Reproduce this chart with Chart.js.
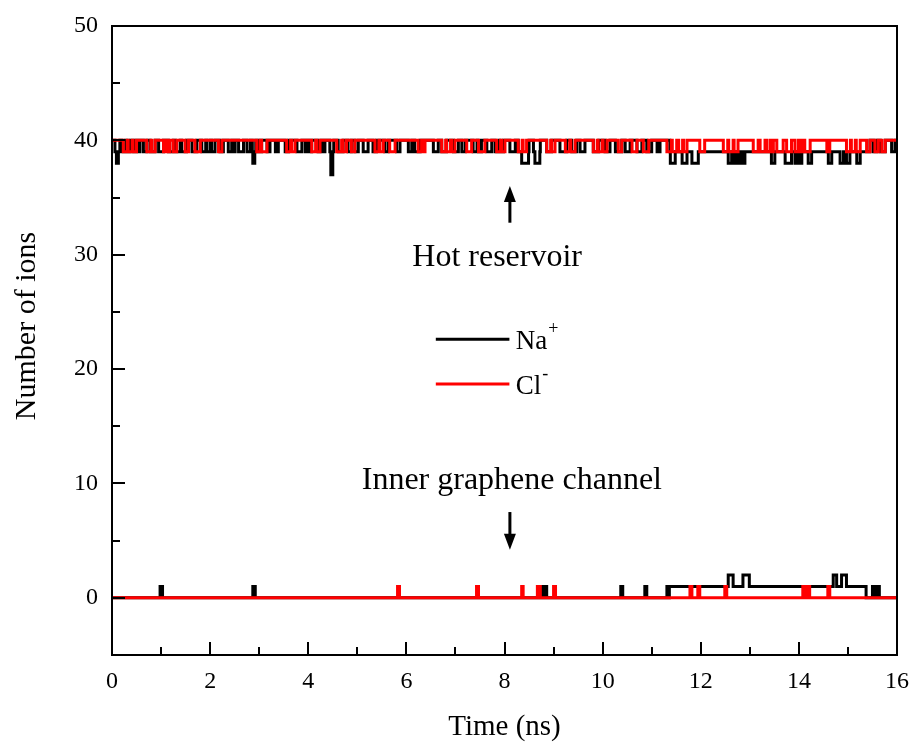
<!DOCTYPE html>
<html>
<head>
<meta charset="utf-8">
<title>Number of ions</title>
<script src="https://cdn.jsdelivr.net/npm/chart.js@4.4.1/dist/chart.umd.min.js"></script>
<style>
    html, body { margin: 0; padding: 0; background: #ffffff; }
    #ionChart { display: block; }
</style>
</head>
<body>
<canvas id="ionChart" width="914" height="749"></canvas>
<script>
// Datos (tiempo en ns)
var xTicks = [0, 2, 4, 6, 8, 10, 12, 14, 16];
var yTicks = [0, 10, 20, 30, 40, 50];

// Na+ en el reservorio caliente: línea base [t, valor] y caídas [t0, t1, valor]
var naHotBase = [[0, 40], [11.37, 39], [15.35, 40]];
var naHotDips = [
    [0.06, 0.16, 39], [0.09, 0.13, 38], [0.20, 0.28, 39], [0.30, 0.37, 39], [0.44, 0.50, 39],
    [0.52, 0.57, 39], [0.64, 0.71, 39], [0.78, 0.88, 39], [0.95, 1.05, 39], [1.15, 1.25, 39],
    [1.29, 1.39, 39], [1.42, 1.52, 39], [1.63, 1.73, 39], [1.83, 1.91, 39], [1.93, 2.00, 39],
    [2.03, 2.10, 39], [2.20, 2.27, 39], [2.37, 2.44, 39], [2.46, 2.51, 39], [2.58, 2.68, 39],
    [2.75, 2.82, 39], [2.86, 2.93, 39], [2.87, 2.91, 38], [2.99, 3.05, 39], [3.16, 3.22, 39],
    [3.33, 3.39, 39], [3.53, 3.60, 39], [3.77, 3.87, 39], [3.94, 4.00, 39], [4.02, 4.07, 39],
    [4.20, 4.27, 39], [4.29, 4.34, 39], [4.44, 4.52, 39], [4.46, 4.50, 37], [4.61, 4.71, 39],
    [4.81, 4.88, 39], [4.95, 5.02, 39], [5.12, 5.22, 39], [5.32, 5.39, 39], [5.56, 5.63, 39],
    [5.80, 5.87, 39], [6.04, 6.11, 39], [6.17, 6.28, 39], [6.55, 6.65, 39], [6.72, 6.82, 39],
    [6.96, 7.06, 39], [7.13, 7.20, 39], [7.36, 7.44, 39], [7.46, 7.53, 39], [7.64, 7.74, 39],
    [7.81, 7.89, 39], [7.91, 7.98, 39], [8.11, 8.22, 39], [8.28, 8.50, 39], [8.35, 8.49, 38],
    [8.59, 8.73, 39], [8.62, 8.72, 38], [8.86, 8.96, 39], [9.13, 9.27, 39], [9.37, 9.47, 39],
    [9.54, 9.64, 39], [9.81, 9.92, 39], [10.05, 10.15, 39], [10.26, 10.39, 39], [10.46, 10.56, 39],
    [10.70, 10.80, 39], [10.90, 11.00, 39], [11.11, 11.17, 39], [11.38, 11.48, 38], [11.62, 11.72, 38],
    [11.82, 11.95, 38], [12.56, 12.63, 38], [12.66, 12.72, 38], [12.76, 12.80, 38], [12.84, 12.90, 38],
    [13.44, 13.51, 38], [13.72, 13.85, 38], [13.92, 13.97, 38], [14.01, 14.06, 38], [14.19, 14.26, 38],
    [14.60, 14.67, 38], [14.84, 14.91, 38], [14.97, 15.04, 38], [15.18, 15.25, 38], [15.35, 15.45, 39],
    [15.52, 15.59, 39], [15.66, 15.76, 39], [15.89, 15.96, 39]
];

// Cl- en el reservorio caliente: base 40, caídas a 39
var clHotBase = [[0, 40]];
var clHotDips = [
    [0.23, 0.31], [0.33, 0.41], [0.43, 0.50], [0.71, 0.79], [0.81, 0.88], [1.05, 1.11],
    [1.13, 1.18], [1.25, 1.32], [1.49, 1.56], [1.69, 1.80], [2.17, 2.24], [2.95, 3.02],
    [3.05, 3.16], [3.56, 3.64], [3.66, 3.73], [4.07, 4.15], [4.17, 4.24], [4.58, 4.68],
    [4.71, 4.78], [4.88, 4.95], [5.36, 5.44], [5.46, 5.53], [5.66, 5.77], [6.24, 6.31],
    [6.33, 6.38], [6.72, 6.80], [6.82, 6.90], [6.92, 6.99], [7.23, 7.33], [7.47, 7.60],
    [7.84, 7.92], [7.94, 8.01], [8.28, 8.36], [8.38, 8.45], [8.86, 8.94], [8.96, 9.03],
    [9.24, 9.33], [9.35, 9.44], [9.81, 9.89], [9.91, 9.99], [10.01, 10.09], [10.32, 10.39],
    [10.60, 10.70], [10.83, 10.94], [11.31, 11.40], [11.42, 11.51], [11.55, 11.63], [11.65, 11.72],
    [11.98, 12.08], [12.46, 12.55], [12.57, 12.66], [12.68, 12.76], [13.07, 13.17], [13.21, 13.31],
    [13.34, 13.41], [13.43, 13.48], [13.55, 13.68], [13.75, 13.85], [13.92, 13.99], [14.01, 14.06],
    [14.12, 14.23], [14.57, 14.63], [14.97, 15.05], [15.07, 15.15], [15.17, 15.25], [15.38, 15.45],
    [15.55, 15.62], [15.69, 15.76]
];

// Na+ en el canal interno de grafeno
var naInnerBase = [[0, 0], [11.36, 1], [15.37, 0]];
var naInnerPeaks = [
    [0.98, 1.03, 1], [2.87, 2.92, 1], [8.74, 8.79, 1], [8.81, 8.86, 1], [10.37, 10.41, 1],
    [10.86, 10.90, 1], [11.31, 11.33, 1], [12.56, 12.66, 2], [12.86, 12.99, 2], [14.70, 14.77, 2],
    [14.87, 14.97, 2], [15.50, 15.56, 1], [15.59, 15.64, 1]
];

// Cl- en el canal interno: base 0, picos a 1
var clInnerBase = [[0, 0]];
var clInnerPeaks = [
    [5.82, 5.86], [7.43, 7.47], [8.35, 8.38], [8.67, 8.73], [9.00, 9.04], [11.78, 11.82],
    [11.94, 11.98], [12.49, 12.53], [14.08, 14.12], [14.16, 14.22], [14.59, 14.63]
];

var FONT = "'Liberation Serif', 'Times New Roman', serif";

// Construye los puntos escalonados a partir de la base y los segmentos
function buildSteps(base, segs, segValue) {
    var times = [16];
    base.forEach(function (b) { times.push(b[0]); });
    segs.forEach(function (s) { times.push(s[0]); times.push(s[1]); });
    times.sort(function (a, b) { return a - b; });
    times = times.filter(function (t, i) { return i === 0 || t !== times[i - 1]; });

    function valueAt(t) {
        var best = null;
        segs.forEach(function (s) {
            if (t >= s[0] && t < s[1]) {
                if (best === null || (s[1] - s[0]) < (best[1] - best[0])) best = s;
            }
        });
        if (best !== null) return best.length > 2 ? best[2] : segValue;
        var v = base[0][1];
        base.forEach(function (b) { if (t >= b[0]) v = b[1]; });
        return v;
    }

    return times.map(function (t) { return { x: t, y: valueAt(t) }; });
}

function stepDataset(data, color, width) {
    return {
        data: data,
        borderColor: color,
        borderWidth: width,
        pointRadius: 0,
        stepped: true,
        fill: false
    };
}

// Marco, marcas interiores, leyenda y anotaciones
var decorPlugin = {
    id: 'decor',
    afterDatasetsDraw: function (chart) {
        var ctx = chart.ctx;
        var a = chart.chartArea;
        var xs = chart.scales.x;
        var ys = chart.scales.y;
        ctx.save();
        ctx.strokeStyle = '#000';
        ctx.lineWidth = 2;
        ctx.strokeRect(a.left, a.top, a.right - a.left, a.bottom - a.top);

        // marcas del eje x (hacia dentro)
        for (var t = 1; t < 16; t++) {
            var px = Math.round(xs.getPixelForValue(t));
            var len = (t % 2 === 0) ? 13 : 8;
            ctx.beginPath();
            ctx.moveTo(px, a.bottom);
            ctx.lineTo(px, a.bottom - len);
            ctx.stroke();
        }
        // marcas del eje y
        for (var v = 0; v < 50; v += 5) {
            var py = Math.round(ys.getPixelForValue(v));
            var l2 = (v % 10 === 0) ? 13 : 8;
            ctx.beginPath();
            ctx.moveTo(a.left, py);
            ctx.lineTo(a.left + l2, py);
            ctx.stroke();
        }

        // leyenda
        var lx0 = xs.getPixelForValue(6.6), lx1 = xs.getPixelForValue(8.1);
        var legend = [['Na', '+', '#000000', 22.6], ['Cl', '-', '#ff0000', 18.7]];
        legend.forEach(function (item) {
            var y = ys.getPixelForValue(item[3]);
            ctx.strokeStyle = item[2];
            ctx.lineWidth = 3;
            ctx.beginPath();
            ctx.moveTo(lx0, y);
            ctx.lineTo(lx1, y);
            ctx.stroke();
            ctx.fillStyle = '#000';
            ctx.font = '27px ' + FONT;
            ctx.textAlign = 'left';
            ctx.textBaseline = 'middle';
            var tx = xs.getPixelForValue(8.23);
            ctx.fillText(item[0], tx, y + 3);
            var w = ctx.measureText(item[0]).width;
            ctx.font = '18px ' + FONT;
            ctx.fillText(item[1], tx + w + 1, y - 10);
        });

        // textos de anotación
        ctx.fillStyle = '#000';
        ctx.font = '32px ' + FONT;
        ctx.textAlign = 'center';
        ctx.textBaseline = 'alphabetic';
        ctx.fillText('Hot reservoir', xs.getPixelForValue(7.85), ys.getPixelForValue(29.0));
        ctx.fillText('Inner graphene channel', xs.getPixelForValue(8.15), ys.getPixelForValue(9.5));

        // flechas
        drawArrow(ctx, xs.getPixelForValue(8.11), ys.getPixelForValue(32.8), ys.getPixelForValue(36.0));
        drawArrow(ctx, xs.getPixelForValue(8.11), ys.getPixelForValue(7.5), ys.getPixelForValue(4.2));

        // título del eje y
        ctx.translate(27, 326);
        ctx.rotate(-Math.PI / 2);
        ctx.font = '30px ' + FONT;
        ctx.textAlign = 'center';
        ctx.textBaseline = 'middle';
        ctx.fillText('Number of ions', 0, 0);
        ctx.restore();
    }
};

function drawArrow(ctx, x, yFrom, yTo) {
    var dir = yTo < yFrom ? -1 : 1;
    ctx.strokeStyle = '#000';
    ctx.fillStyle = '#000';
    ctx.lineWidth = 3;
    ctx.beginPath();
    ctx.moveTo(x, yFrom);
    ctx.lineTo(x, yTo - dir * 10);
    ctx.stroke();
    ctx.beginPath();
    ctx.moveTo(x, yTo);
    ctx.lineTo(x - 6, yTo - dir * 16);
    ctx.lineTo(x + 6, yTo - dir * 16);
    ctx.closePath();
    ctx.fill();
}

// El rojo va primero para que se dibuje encima del negro
var chart = new Chart(document.getElementById('ionChart').getContext('2d'), {
    type: 'line',
    data: {
        datasets: [
            stepDataset(buildSteps(clHotBase, clHotDips, 39), '#ff0000', 3),
            stepDataset(buildSteps(clInnerBase, clInnerPeaks, 1), '#ff0000', 3),
            stepDataset(buildSteps(naHotBase, naHotDips, 39), '#000000', 3),
            stepDataset(buildSteps(naInnerBase, naInnerPeaks, 1), '#000000', 3)
        ]
    },
    options: {
        responsive: false,
        animation: false,
        devicePixelRatio: 1,
        layout: { padding: { top: 26, right: 17, left: 0, bottom: 0 } },
        plugins: { legend: { display: false }, tooltip: { enabled: false } },
        scales: {
            x: {
                type: 'linear',
                min: 0,
                max: 16,
                afterBuildTicks: function (scale) {
                    scale.ticks = xTicks.map(function (v) { return { value: v }; });
                },
                afterFit: function (scale) {
                    scale.height = 94;
                    scale.paddingLeft = 0;
                    scale.paddingRight = 0;
                },
                grid: { display: false, drawTicks: false },
                border: { display: false },
                ticks: { color: '#000', font: { family: FONT, size: 24 }, padding: 12, maxRotation: 0 },
                title: { display: true, text: 'Time (ns)', color: '#000', font: { family: FONT, size: 29 }, padding: { top: 0, bottom: 4 } }
            },
            y: {
                type: 'linear',
                min: -5,
                max: 50,
                afterBuildTicks: function (scale) {
                    scale.ticks = yTicks.map(function (v) { return { value: v }; });
                },
                afterFit: function (scale) {
                    scale.width = 112;
                    scale.paddingTop = 0;
                    scale.paddingBottom = 0;
                },
                grid: { display: false, drawTicks: false },
                border: { display: false },
                ticks: { color: '#000', font: { family: FONT, size: 24 }, padding: 14 }
            }
        }
    },
    plugins: [decorPlugin]
});
</script>
</body>
</html>
